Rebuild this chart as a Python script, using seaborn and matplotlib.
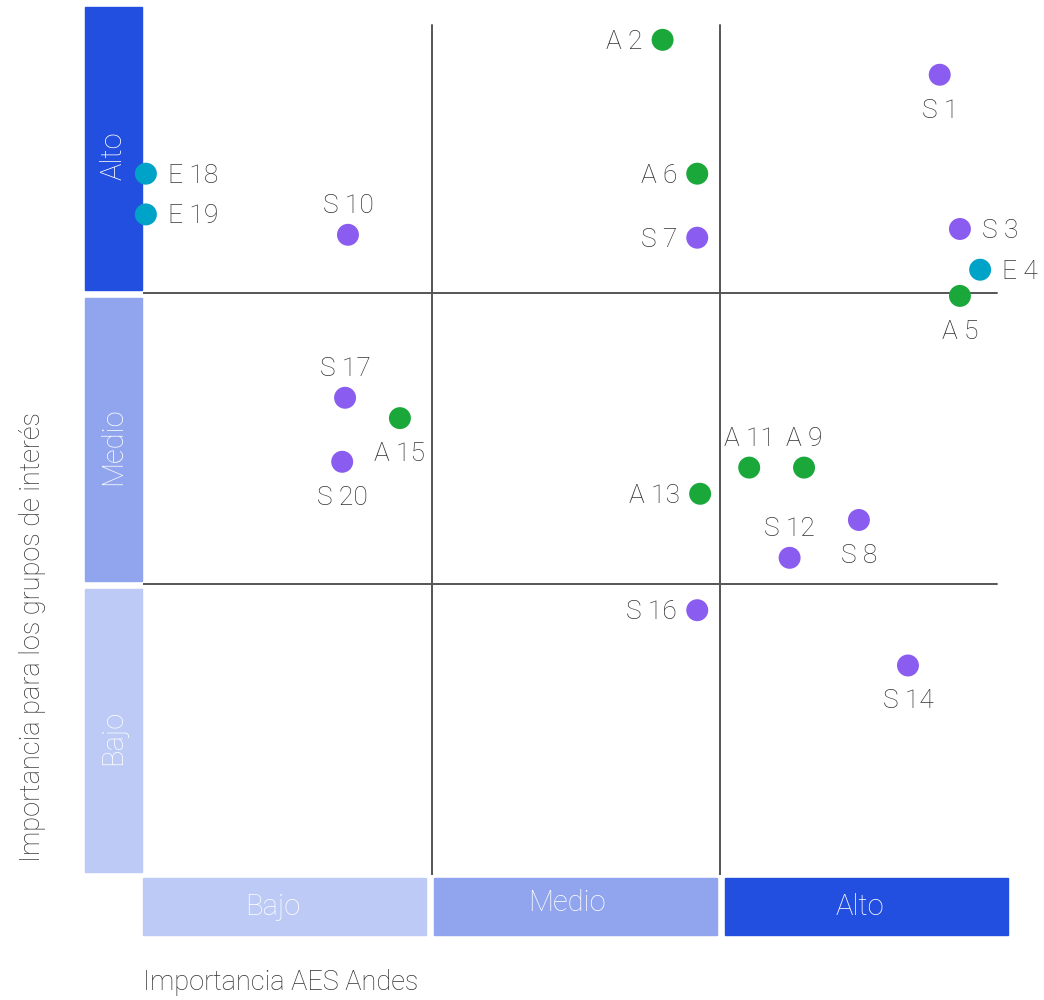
import matplotlib.pyplot as plt
import pandas as pd
import seaborn as sns
from matplotlib.patches import Rectangle

sns.set_style("white")
plt.rcParams["font.family"] = ["Roboto", "DejaVu Sans"]
plt.rcParams["font.weight"] = "light"

# data (0-3 scale: Bajo / Medio / Alto thirds)
labels = ["A 2", "S 1", "E 18", "E 19", "A 6", "S 10", "S 7", "S 3", "E 4", "A 5",
          "S 17", "A 15", "S 20", "A 11", "A 9", "A 13", "S 8", "S 12", "S 16", "S 14"]
aes_importance = [1.80, 2.76, 0.01, 0.01, 1.92, 0.71, 1.92, 2.83, 2.90, 2.83,
                  0.70, 0.89, 0.69, 2.10, 2.29, 1.93, 2.48, 2.24, 1.92, 2.65]
stakeholder_importance = [2.87, 2.75, 2.41, 2.27, 2.41, 2.20, 2.19, 2.22, 2.08, 1.99,
                          1.64, 1.57, 1.42, 1.40, 1.40, 1.31, 1.22, 1.09, 0.91, 0.72]
label_side = ["l", "b", "r", "r", "l", "t", "l", "r", "r", "b",
              "t", "b", "b", "t", "t", "l", "b", "t", "l", "b"]
levels = ["Bajo", "Medio", "Alto"]

level_colors = {"Bajo": "#BCCAF5", "Medio": "#91A5EE", "Alto": "#234FE0"}
group_colors = {"A": "#1AA83B", "S": "#8B5CF0", "E": "#00A3C8"}
text_color = "#333333"

df = pd.DataFrame({"label": labels, "x": aes_importance, "y": stakeholder_importance})
df["group"] = df["label"].str[0]

fig = plt.figure(figsize=(10.44, 10), dpi=100)
ax = fig.add_axes([143 / 1044, 125 / 1000, 866 / 1044, 873 / 1000])
ax.set_xlim(0, 3)
ax.set_ylim(0, 3)
ax.axis("off")

# quadrant lines
for v in [1, 2]:
    ax.plot([v, v], [-0.007, 2.92], color="#555555", lw=1.4, zorder=1)
    ax.plot([0, 2.96], [v, v], color="#555555", lw=1.4, zorder=1)

# level bands
for i, lev in enumerate(levels):
    ax.add_patch(Rectangle((-0.201, i + 0.01), 0.198, 0.972, color=level_colors[lev],
                           clip_on=False, zorder=0))
    ax.text(-0.102, i + 0.472, lev, rotation=90, ha="center", va="center",
            color="white", fontsize=21)
    ax.add_patch(Rectangle((i * 1.008, -0.206), 0.98, 0.196,
                           color=level_colors[lev], clip_on=False, zorder=0))
    ax.text(i * 1.017 + 0.45, -0.11 if lev != "Medio" else -0.097, lev,
            ha="center", va="center", color="white", fontsize=21)

sns.scatterplot(data=df, x="x", y="y", hue="group", palette=group_colors,
                s=250, linewidth=0, legend=False, ax=ax, zorder=3)
for c in ax.collections:
    c.set_clip_on(False)

offsets = {"l": (-20, -2, "right", "center"), "r": (22, -2, "left", "center"),
           "t": (0, 29, "center", "center"), "b": (0, -36, "center", "center")}
for i, row in df.iterrows():
    dx, dy, ha, va = offsets[label_side[i]]
    ax.annotate(row["label"], (row["x"], row["y"]), xytext=(dx, dy), textcoords="offset pixels",
                ha=ha, va=va, fontsize=19, color=text_color, annotation_clip=False)

fig.text(33 / 1044, 1 - 637 / 1000, "Importancia para los grupos de interés", rotation=90,
         ha="center", va="center", fontsize=19.5, color=text_color)
fig.text(143 / 1044, 1 - 982 / 1000, "Importancia AES Andes", ha="left", va="center",
         fontsize=19.5, color=text_color)

fig.savefig("out.png", dpi=100)
